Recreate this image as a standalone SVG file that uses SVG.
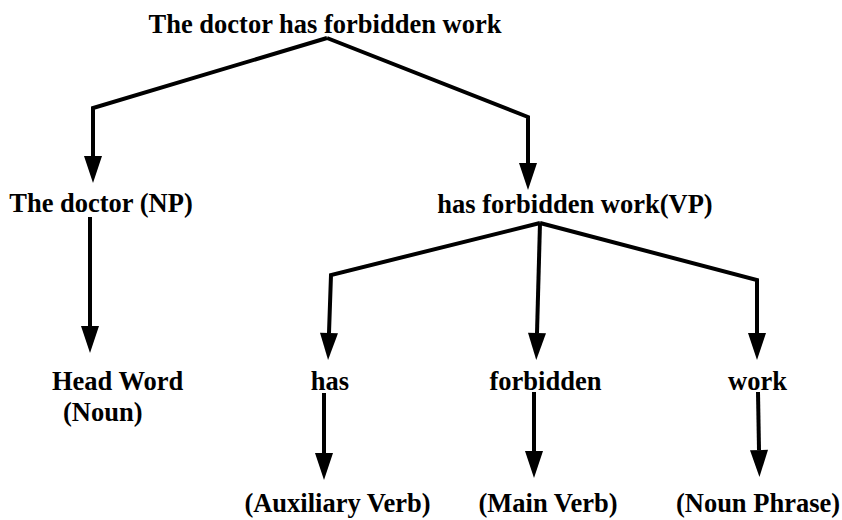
<svg xmlns="http://www.w3.org/2000/svg" width="842" height="520" viewBox="0 0 842 520">
<defs>
<marker id="ah" markerUnits="userSpaceOnUse" markerWidth="27" markerHeight="18" refX="0" refY="9" orient="auto" overflow="visible">
<path d="M0,0 L27,9 L0,18 Z" fill="#000"/>
</marker>
<style>
.t{font-family:"Liberation Serif","Times New Roman",serif;font-weight:bold;font-size:26.5px;fill:#000;text-anchor:middle}
.c{fill:none;stroke:#000;stroke-width:4;stroke-linejoin:miter;marker-end:url(#ah)}
</style>
</defs>
<rect width="842" height="520" fill="#fff"/>
<g id="connectors">
<polyline class="c" points="327,38 93,108 93,156"/>
<polyline class="c" points="327,38 528,117 528,163"/>
<polyline class="c" points="90,217 90,326"/>
<polyline class="c" points="540,223 331,275 329,333"/>
<polyline class="c" points="540,223 537,333"/>
<polyline class="c" points="540,223 757,280 757,333"/>
<polyline class="c" points="324,393 324,453"/>
<polyline class="c" points="534,392 534,451"/>
<polyline class="c" points="758,392 759,450"/>
</g>
<g id="root"><text class="t" x="325" y="33">The doctor has forbidden work</text></g>
<g id="np"><text class="t" x="101" y="212">The doctor (NP)</text></g>
<g id="vp"><text class="t" x="575" y="213">has forbidden work(VP)</text></g>
<g id="head"><text class="t" x="52" y="390" style="text-anchor:start">Head Word</text><text class="t" x="63" y="421" style="text-anchor:start">(Noun)</text></g>
<g id="has"><text class="t" x="330" y="390">has</text></g>
<g id="forbidden"><text class="t" x="545.5" y="390">forbidden</text></g>
<g id="work"><text class="t" x="757.5" y="390">work</text></g>
<g id="aux"><text class="t" x="337.5" y="512">(Auxiliary Verb)</text></g>
<g id="mainverb"><text class="t" x="548" y="512">(Main Verb)</text></g>
<g id="nounphrase"><text class="t" x="758" y="512">(Noun Phrase)</text></g>
</svg>
